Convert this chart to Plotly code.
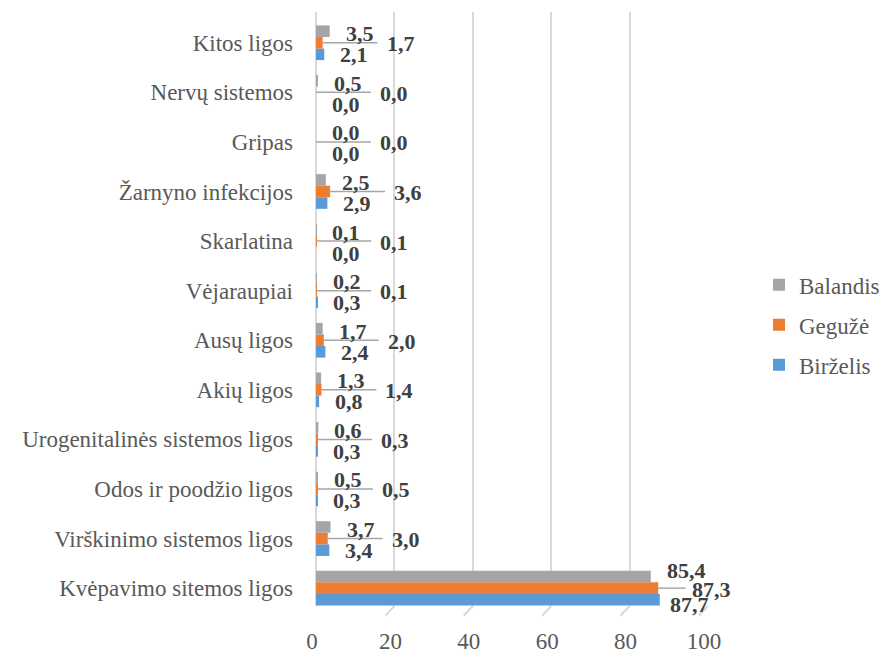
import plotly.graph_objects as go

categories = [
    "Kvėpavimo sitemos ligos",
    "Virškinimo sistemos ligos",
    "Odos ir poodžio ligos",
    "Urogenitalinės sistemos ligos",
    "Akių ligos",
    "Ausų ligos",
    "Vėjaraupiai",
    "Skarlatina",
    "Žarnyno infekcijos",
    "Gripas",
    "Nervų sistemos",
    "Kitos ligos",
]
balandis = [85.4, 3.7, 0.5, 0.6, 1.3, 1.7, 0.2, 0.1, 2.5, 0.0, 0.5, 3.5]
geguze = [87.3, 3.0, 0.5, 0.3, 1.4, 2.0, 0.1, 0.1, 3.6, 0.0, 0.0, 1.7]
birzelis = [87.7, 3.4, 0.3, 0.3, 0.8, 2.4, 0.3, 0.0, 2.9, 0.0, 0.0, 2.1]
x_ticks = [0, 20, 40, 60, 80, 100]

C_GRAY = "#a5a5a5"
C_ORANGE = "#ed7d31"
C_BLUE = "#5b9bd5"
GRID = "#d9d9d9"
FONT = "Liberation Serif, Times New Roman, serif"


def fmt(v):
    return f"{v:.1f}".replace(".", ",")


fig = go.Figure()
for name, vals, col, rank in [("Birželis", birzelis, C_BLUE, 3),
                              ("Gegužė", geguze, C_ORANGE, 2),
                              ("Balandis", balandis, C_GRAY, 1)]:
    fig.add_trace(go.Bar(
        y=categories, x=vals, name=name, orientation="h",
        marker=dict(color=col, line=dict(width=0)),
        legendgroup=name, legendrank=rank,
    ))

label_font = dict(family=FONT, size=22, color="#404040")
annotations = []
shapes = []
for i, cat in enumerate(categories):
    b, g, z = balandis[i], geguze[i], birzelis[i]
    big = g > 50
    top_dy = 18 if big else 9
    bot_dy = -16 if big else -12
    top_dx = 36 if big else 30
    right_dx = 32 if big else 62
    annotations.append(dict(x=b, y=cat, text=f"<b>{fmt(b)}</b>", showarrow=False,
                            xanchor="center", yanchor="middle", xshift=top_dx,
                            yshift=top_dy, font=label_font))
    annotations.append(dict(x=z, y=cat, text=f"<b>{fmt(z)}</b>", showarrow=False,
                            xanchor="center", yanchor="middle", xshift=30,
                            yshift=bot_dy, font=label_font))
    annotations.append(dict(x=g, y=cat, text=f"<b>{fmt(g)}</b>", showarrow=False,
                            xanchor="left", yanchor="middle", xshift=right_dx,
                            yshift=-1, font=label_font))
    line_len = 7.0 if big else 14.0
    shapes.append(dict(type="line", xref="x", yref="y",
                       x0=g, x1=g + line_len, y0=i, y1=i,
                       line=dict(color="#a6a6a6", width=1.5), layer="above"))

# 3D floor edges below each gridline
for t in x_ticks:
    shapes.append(dict(type="line", xref="x", yref="paper",
                       x0=t, x1=t - 2.3, y0=0, y1=-0.016,
                       line=dict(color=GRID, width=2), layer="below"))

fig.update_layout(
    width=880, height=655,
    margin=dict(l=316, r=172, t=12, b=49, autoexpand=False),
    paper_bgcolor="white", plot_bgcolor="white",
    barmode="group", bargap=0.3, bargroupgap=0,
    font=dict(family=FONT, size=23, color="#595959"),
    xaxis=dict(range=[0, 100], tickvals=x_ticks, ticktext=[str(t) for t in x_ticks],
               showgrid=True, gridcolor=GRID, gridwidth=2,
               zeroline=True, zerolinecolor=GRID, zerolinewidth=2,
               showline=False, ticks="", ticklabelstandoff=19, ticklabelshift=-4,
               automargin=False,
               tickfont=dict(family=FONT, size=23, color="#595959"),
               fixedrange=True),
    yaxis=dict(type="category", categoryorder="array", categoryarray=categories,
               range=[-0.36, 11.62], showgrid=False, zeroline=False, showline=False,
               ticks="", ticklabelstandoff=22, automargin=False,
               tickfont=dict(family=FONT, size=23, color="#595959")),
    legend=dict(xref="container", yref="container", x=0.8625, y=0.504,
                xanchor="left", yanchor="middle", traceorder="grouped",
                tracegroupgap=7, font=dict(family=FONT, size=23, color="#595959"),
                itemwidth=30),
    annotations=annotations,
    shapes=shapes,
    showlegend=True,
)

fig.write_html(
    "out.html",
    config={"displayModeBar": False},
    post_script="document.body.style.margin='0';document.body.style.overflow='hidden';",
)
